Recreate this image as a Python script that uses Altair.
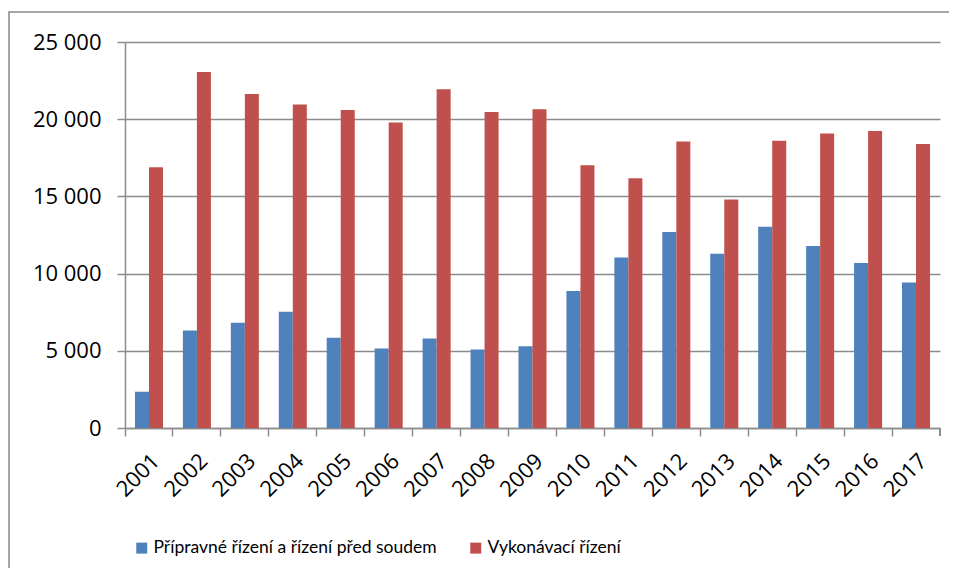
import altair as alt
import pandas as pd

years = [str(y) for y in range(2001, 2018)]
series = ["Přípravné řízení a řízení před soudem", "Vykonávací řízení"]
pripravne = [2350, 6320, 6820, 7530, 5840, 5150, 5800, 5090, 5300,
             8880, 11050, 12700, 11290, 13040, 11790, 10680, 9420]
vykonavaci = [16880, 23060, 21630, 20960, 20590, 19790, 21940, 20460, 20640,
              17010, 16170, 18560, 14800, 18600, 19080, 19230, 18400]
colors = ["#4F81BD", "#C0504D"]

rows = []
for i, y in enumerate(years):
    rows.append({"year": y, "series": series[0], "value": pripravne[i]})
    rows.append({"year": y, "series": series[1], "value": vykonavaci[i]})
df = pd.DataFrame(rows)

W, H = 815, 386
AXFONT = "Open Sans"
LGFONT = "Lato"
GRID = "#8c8c8c"
FS = 22

bars = alt.Chart(df).mark_bar().encode(
    x=alt.X("year:N", sort=years,
            scale=alt.Scale(paddingInner=0, paddingOuter=0),
            axis=alt.Axis(title=None, bandPosition=0, labelAngle=-45,
                          labelAlign="right", labelBaseline="top",
                          labelPadding=14, tickSize=8, tickColor=GRID,
                          domainColor=GRID, domainWidth=1.5, tickWidth=1.5,
                          labelFontSize=FS, labelFont=AXFONT, labelColor="#000",
                          grid=False)),
    xOffset=alt.XOffset("series:N", sort=series,
                        scale=alt.Scale(paddingInner=0, paddingOuter=0.71)),
    y=alt.Y("value:Q", scale=alt.Scale(domain=[0, 25000], nice=False),
            axis=alt.Axis(title=None, values=[0, 5000, 10000, 15000, 20000, 25000],
                          labelExpr="datum.value >= 1000 ? floor(datum.value/1000) + ' 000' : datum.value + ''",
                          tickSize=8, tickColor=GRID, tickWidth=1.5,
                          domainColor=GRID, domainWidth=1.5,
                          gridColor=GRID, gridWidth=1.5,
                          labelFontSize=FS, labelFont=AXFONT, labelColor="#000",
                          labelPadding=16)),
    color=alt.Color("series:N", sort=series,
                    scale=alt.Scale(domain=series, range=colors),
                    legend=alt.Legend(title=None, orient="none", direction="horizontal",
                                      legendX=8, legendY=497,
                                      symbolType="square", symbolSize=121,
                                      symbolStrokeWidth=0, labelFontSize=17.5,
                                      labelFont=LGFONT, labelColor="#000",
                                      labelLimit=0, labelOffset=3, columnPadding=30)),
)

end_tick = alt.Chart(df).mark_rule(color=GRID, strokeWidth=1.5).encode(
    x=alt.value(W), y=alt.value(H), y2=alt.value(H + 8)
)

frame = alt.Chart(df).mark_rect(fill=None, stroke="#a6a6a6", strokeWidth=1.2).encode(
    x=alt.value(-116), x2=alt.value(900), y=alt.value(-30), y2=alt.value(600)
)

chart = alt.layer(frame, bars, end_tick).properties(
    width=W, height=H,
    autosize=alt.AutoSizeParams(type="none"),
    padding={"left": 117, "top": 34, "right": 9, "bottom": 140},
).configure_view(stroke=None)

chart.save("out.html", embed_options={"renderer": "svg", "actions": False})
